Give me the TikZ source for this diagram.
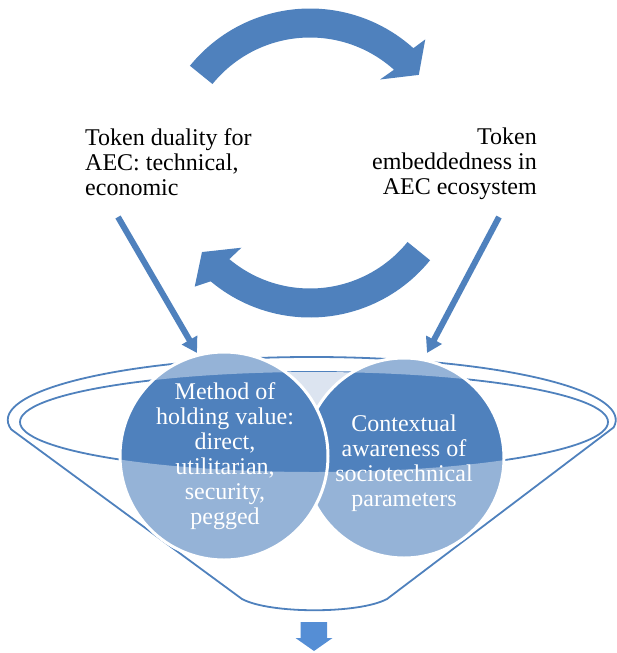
\documentclass[tikz,border=0pt]{standalone}
\usepackage{fontspec}
\setmainfont{Liberation Serif}
\usetikzlibrary{arrows.meta}
\definecolor{aecblue}{RGB}{79,129,189}
\definecolor{aecpale}{RGB}{220,228,240}
\definecolor{aecdown}{RGB}{85,142,213}

\begin{document}
\begin{tikzpicture}[x=1pt,y=-1pt,
                sidetext/.style={inner sep=0pt,font=\fontsize{24}{25}\selectfont},
                ringtext/.style={inner sep=0pt,align=center,text=white,font=\fontsize{24}{25}\selectfont},
                funnelline/.style={draw=aecblue,line width=1.8pt},
                ringfill/.style={fill=aecblue,draw=white,line width=3pt},
                pointer/.style={draw=aecblue,line width=6pt,-{Triangle[width=17pt,length=15pt]}}]
                \useasboundingbox (0,0) rectangle (616,653);

                \coordinate (hub) at (310,163);
                \fill[aecblue] ([shift={(219:154.5)}]hub) arc[start angle=219,end angle=312,radius=154.5]
                    -- ([shift={(313:169)}]hub) -- ([shift={(321:140)}]hub) -- ([shift={(310:109)}]hub)
                    -- ([shift={(312:125.5)}]hub) arc[start angle=312,end angle=219,radius=125.5] -- cycle;
                \fill[aecblue] ([shift={(39:154.5)}]hub) arc[start angle=39,end angle=130,radius=154.5]
                    -- ([shift={(133:169)}]hub) -- ([shift={(140.5:140)}]hub) -- ([shift={(129:109)}]hub)
                    -- ([shift={(130:125.5)}]hub) arc[start angle=130,end angle=39,radius=125.5] -- cycle;

                \node[sidetext,anchor=north west,align=left] (duality) at (85,128) {Token duality for\\AEC: technical,\\economic};
                \node[sidetext,anchor=north east,align=right] (embed) at (537,128) {Token\\embeddedness in\\AEC ecosystem};

                \coordinate (dualtail) at (118,217);
                \coordinate (dualtip) at (197,353);
                \coordinate (embedtail) at (499,217);
                \coordinate (embedtip) at (427,353);
                \draw[pointer] (dualtail) -- (dualtip);
                \draw[pointer] (embedtail) -- (embedtip);

                \draw[funnelline,line join=round] (242,599) -- (11.2,429.4)
                    arc[start angle=171.4,end angle=366.8,x radius=304,y radius=63]
                    -- (387,599) .. controls (359,614) and (270,614) .. (242,599) -- cycle;
                \draw[funnelline] (314,422) ellipse[x radius=294,y radius=50];

                \begin{scope}
                    \clip (314,422) ellipse[x radius=294,y radius=50];
                    \fill[aecpale] (318,400) circle[radius=45];
                \end{scope}
                \filldraw[ringfill] (404,458) circle[radius=100];
                \filldraw[ringfill] (224,456) circle[radius=104];
                \begin{scope}
                    \clip (224,456) circle[radius=104] (404,458) circle[radius=100];
                    \fill[white,opacity=.4,even odd rule] (0,0) rectangle (616,653)
                        (314,422) ellipse[x radius=294,y radius=50];
                \end{scope}

                \node[ringtext] (method) at (225,456) {Method of\\holding value:\\direct,\\utilitarian,\\security,\\pegged};
                \node[ringtext] (context) at (404,463) {Contextual\\awareness of\\sociotechnical\\parameters};

                \fill[aecdown] (300.5,622) -- (327,622) -- (327,638) -- (332.5,638) -- (314,651)
                    -- (295.5,638) -- (300.5,638) -- cycle;
\end{tikzpicture}
\end{document}
